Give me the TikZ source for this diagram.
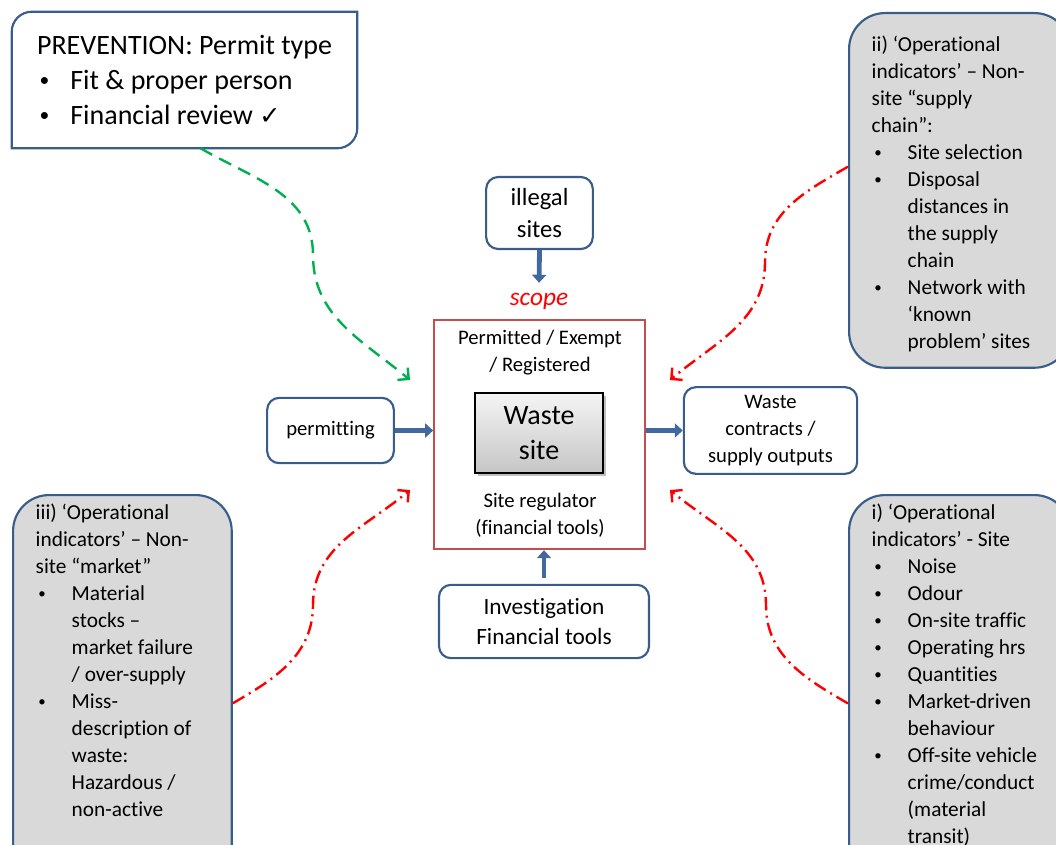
\documentclass[tikz,border=0pt]{standalone}
\usepackage{fontspec}
\setmainfont{Carlito}[Ligatures={TeX,NoCommon}]
\newfontfamily\symbolfont{DejaVu Sans}
\usepackage{tikz}
\usetikzlibrary{arrows.meta,positioning,calc,shadows}
\definecolor{boxblue}{RGB}{56,93,138}
\definecolor{arrowblue}{RGB}{65,105,160}
\definecolor{scopered}{RGB}{192,80,77}
\definecolor{boxgrey}{RGB}{217,217,217}
\definecolor{linkgreen}{RGB}{0,176,80}
\newcommand{\itemdot}[1][27pt]{\makebox[#1][l]{\hspace{2pt}\raisebox{0.1em}{\scalebox{0.7}{\textbullet}}}}
\newcommand{\itemgap}[1][27pt]{\hspace*{#1}}

\begin{document}
\begin{tikzpicture}[x=0.75pt,y=-0.75pt,
  bluebox/.style={draw=boxblue,line width=1.6pt,rounded corners=9pt,fill=white,align=center,inner sep=0pt},
  opsbox/.style={draw=boxblue,line width=1.6pt,rounded corners=27pt,fill=boxgrey,anchor=north west,inner xsep=17pt,inner ysep=17pt,font=\fontsize{16}{20.25}\selectfont},
  blockarrow/.style={draw=arrowblue,line width=3.6pt,-{Triangle[length=6pt,width=10.5pt]}},
  greenlink/.style={draw=linkgreen,line width=1.8pt,dash pattern=on 10pt off 6pt,-{Straight Barb[length=6pt,width=12pt]}},
  redlink/.style={draw=red,line width=1.8pt,dash pattern=on 10pt off 4pt on 1.5pt off 4pt,-{Straight Barb[length=6pt,width=12pt]}},
  smalltext/.style={font=\fontsize{15.5}{20.25}\selectfont,align=center}]
\useasboundingbox (0,0) rectangle (1056,845);
\clip (0,0) rectangle (1056,845);

\node[inner sep=0pt,minimum width=258.75pt,minimum height=102pt,align=left,font=\fontsize{21}{26}\selectfont] (prevention) at (184.5,80) {PREVENTION: Permit type\\
\itemdot[25pt]Fit \& proper person\\
\itemdot[25pt]Financial review {\symbolfont\fontsize{19}{20}\selectfont ✓}};
\draw[boxblue,line width=1.6pt] (prevention.south west) -- ([yshift=-15pt]prevention.north west) arc[start angle=180,end angle=90,radius=15pt] -- (prevention.north east) -- ([yshift=15pt]prevention.south east) arc[start angle=0,end angle=-90,radius=15pt] -- cycle;

\node[bluebox,minimum width=80pt,minimum height=54pt,font=\fontsize{18.5}{24}\selectfont] (illegal) at (539.5,213) {illegal\\sites};
\node[font=\fontsize{19}{22}\selectfont\itshape,text=red] (scope) at (539,301) {scope};
\node[draw=scopered,line width=1.5pt,minimum width=158pt,minimum height=172pt] (scopebox) at (539.5,434.5) {};
\node[smalltext] (permitted) at (540,353) {Permitted / Exempt\\/ Registered};
\node[draw=black,line width=0.8pt,top color=gray!8,bottom color=gray!45,drop shadow,minimum width=96pt,minimum height=60pt,font=\fontsize{21}{26}\selectfont,align=center] (wastesite) at (539,433) {Waste\\site};
\node[smalltext] (regulator) at (540,515) {Site regulator\\(financial tools)};
\node[bluebox,minimum width=95pt,minimum height=49pt,font=\fontsize{15.5}{20}\selectfont] (permitting) at (330.5,430.5) {permitting};
\node[bluebox,minimum width=130pt,minimum height=65pt,font=\fontsize{15.5}{20.25}\selectfont] (contracts) at (770.5,430.5) {Waste\\contracts /\\supply outputs};
\node[bluebox,minimum width=157.5pt,minimum height=55pt,font=\fontsize{17.5}{22.5}\selectfont] (investigation) at (544,621.5) {Investigation\\Financial tools};

\node[opsbox] (opsupply) at (848,12) {\begin{minipage}[t][232pt][t]{132pt}\raggedright
ii) ‘Operational\\
indicators’ – Non-\\
site “supply\\
chain”:\\
\itemdot Site selection\\
\itemdot Disposal\\
\itemgap distances in\\
\itemgap the supply\\
\itemgap chain\\
\itemdot Network with\\
\itemgap ‘known\\
\itemgap problem’ sites
\end{minipage}};
\node[opsbox,inner ysep=6.5pt] (opsite) at (848,494) {\begin{minipage}[t][276pt][t]{132pt}\raggedright
i) ‘Operational\\
indicators’ - Site\\
\itemdot Noise\\
\itemdot Odour\\
\itemdot On-site traffic\\
\itemdot Operating hrs\\
\itemdot Quantities\\
\itemdot Market-driven\\
\itemgap behaviour\\
\itemdot Off-site vehicle\\
\itemgap crime/conduct\\
\itemgap (material\\
\itemgap transit)
\end{minipage}};
\node[opsbox,inner ysep=6.5pt] (opmarket) at (12,494) {\begin{minipage}[t][276pt][t]{130pt}\raggedright
iii) ‘Operational\\
indicators’ – Non-\\
site “market”\\
\itemdot Material\\
\itemgap stocks –\\
\itemgap market failure\\
\itemgap / over-supply\\
\itemdot Miss-\\
\itemgap description of\\
\itemgap waste:\\
\itemgap Hazardous /\\
\itemgap non-active
\end{minipage}};

\draw[blockarrow,shorten >=4pt] (illegal.south) -- (scope.north);
\draw[blockarrow] (permitting.east) -- (permitting.east -| scopebox.west);
\draw[blockarrow] (scopebox.east |- contracts.west) -- (contracts.west);
\draw[blockarrow] ([yshift=4pt]investigation.north) -- (investigation.north |- scopebox.south);

\coordinate (greenbend) at (313,255);
\coordinate (greentip) at (410,380);
\coordinate (supplybend) at (765,262);
\coordinate (supplytip) at (670,380);
\coordinate (sitebend) at (766,605);
\coordinate (sitetip) at (670,490);
\coordinate (marketbend) at (313,605);
\coordinate (markettip) at (410,490);

\draw[greenlink] ([xshift=12pt]prevention.south) to[out=-30,in=90] (greenbend) to[out=-90,in=140] (greentip);
\draw[redlink] (opsupply.168) to[out=210,in=90] (supplybend) to[out=-90,in=40] (supplytip);
\draw[redlink] (opsite.188) to[out=150,in=-90] (sitebend) to[out=90,in=-40] (sitetip);
\draw[redlink] (opmarket.-8) to[out=30,in=-90] (marketbend) to[out=90,in=-140] (markettip);
\end{tikzpicture}
\end{document}
